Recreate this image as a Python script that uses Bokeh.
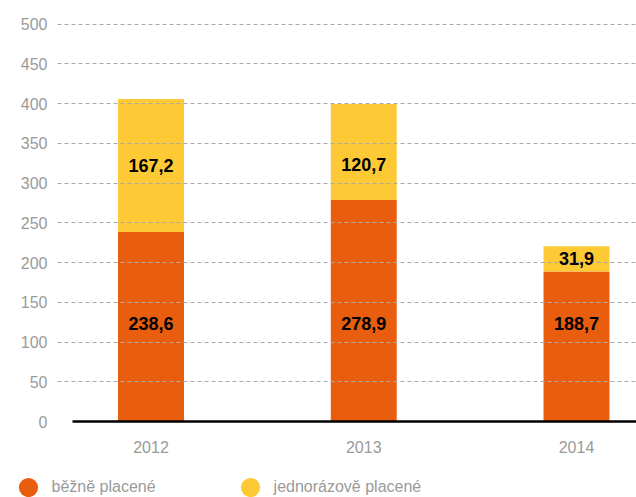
from bokeh.plotting import figure
from bokeh.layouts import column
from bokeh.models import ColumnDataSource, FixedTicker, Legend, LegendItem, Range1d
from bokeh.core.properties import value
from bokeh.embed import file_html
from bokeh.resources import INLINE

# ---- data ----
years = ["2012", "2013", "2014"]
bezne_placene = [238.6, 278.9, 188.7]
jednorazove_placene = [167.2, 120.7, 31.9]
series_names = ["běžně placené", "jednorázově placené"]
y_ticks = [0, 50, 100, 150, 200, 250, 300, 350, 400, 450, 500]

# ---- style ----
ORANGE = "#E85D0E"
YELLOW = "#FDCA36"
GRAY_TEXT = "#9A9A9A"
FONT = "Liberation Sans"
LOW_LABEL_Y = 123      # orange labels sit at a fixed height
HIGH_LABEL_CAP = 323   # yellow labels never higher than this

def fmt(v):
    return f"{v:.1f}".replace(".", ",")

x = list(range(len(years)))
src = ColumnDataSource(dict(x=x, bezne=bezne_placene, jednorazove=jednorazove_placene))

p = figure(width=636, height=457, output_backend="svg", toolbar_location=None,
           x_range=Range1d(-0.4395, 2.282), y_range=Range1d(0, 506),
           min_border_left=57, min_border_right=0, min_border_top=19,
           min_border_bottom=36)
p.frame_align = False
p.outline_line_color = None
p.background_fill_color = "white"
p.border_fill_color = "white"

p.vbar_stack(["bezne", "jednorazove"], x="x", width=0.31, color=[ORANGE, YELLOW],
             line_color=None, source=src)

# value labels
low_src = ColumnDataSource(dict(
    x=x, y=[LOW_LABEL_Y] * len(x), t=[fmt(v) for v in bezne_placene]))
high_src = ColumnDataSource(dict(
    x=x,
    y=[min(b + j / 2, HIGH_LABEL_CAP) for b, j in zip(bezne_placene, jednorazove_placene)],
    t=[fmt(v) for v in jednorazove_placene]))
for s in (low_src, high_src):
    r = p.text(x="x", y="y", text="t", source=s, text_align="center",
               text_baseline="middle", text_font=value(FONT),
               text_font_size="18px", text_font_style="bold", text_color="black")
    r.level = "overlay"

# axes
p.xaxis.ticker = FixedTicker(ticks=x)
p.xaxis.major_label_overrides = {i: yv for i, yv in enumerate(years)}
p.xaxis.bounds = (-0.369, 2.282)
p.xaxis.axis_line_color = "black"
p.xaxis.axis_line_width = 2.5
p.xaxis.major_tick_line_color = None
p.xaxis.minor_tick_line_color = None
p.xaxis.major_label_text_font = FONT
p.xaxis.major_label_text_font_size = "16px"
p.xaxis.major_label_text_color = GRAY_TEXT
p.xaxis.major_label_standoff = 13

p.yaxis.ticker = FixedTicker(ticks=y_ticks)
p.yaxis.axis_line_color = None
p.yaxis.major_tick_line_color = None
p.yaxis.minor_tick_line_color = None
p.yaxis.major_label_text_font = FONT
p.yaxis.major_label_text_font_size = "16px"
p.yaxis.major_label_text_color = GRAY_TEXT
p.yaxis.major_label_standoff = 4

p.xgrid.visible = False
p.ygrid.ticker = FixedTicker(ticks=y_ticks[1:])
p.ygrid.grid_line_color = "#AAAAAA"
p.ygrid.grid_line_dash = "4 3"
p.ygrid.grid_line_width = 1
p.ygrid.level = "annotation"

# legend strip below the chart
lg = figure(width=636, height=40, output_backend="svg", toolbar_location=None,
            x_range=Range1d(0, 1), y_range=Range1d(0, 1),
            x_axis_location=None, y_axis_location=None,
            min_border_left=0, min_border_right=0, min_border_top=0,
            min_border_bottom=0)
lg.frame_align = False
lg.outline_line_color = None
lg.xgrid.visible = False
lg.ygrid.visible = False
nan = float("nan")
r1 = lg.scatter(x=[nan], y=[nan], marker="circle", size=19, fill_color=ORANGE, line_color=None)
r2 = lg.scatter(x=[nan], y=[nan], marker="circle", size=19, fill_color=YELLOW, line_color=None)
legend = Legend(items=[LegendItem(label=series_names[0], renderers=[r1]),
                       LegendItem(label=series_names[1], renderers=[r2])],
                orientation="horizontal", location=(3.5, -14),
                glyph_width=48, glyph_height=48, label_standoff=-4, spacing=70,
                padding=0, margin=0, border_line_color=None,
                background_fill_alpha=0, label_text_font=FONT,
                label_text_font_size="16px", label_text_color=GRAY_TEXT)
lg.add_layout(legend, "center")

layout = column(p, lg, spacing=0)
open("out.html", "w").write(file_html(layout, INLINE))
